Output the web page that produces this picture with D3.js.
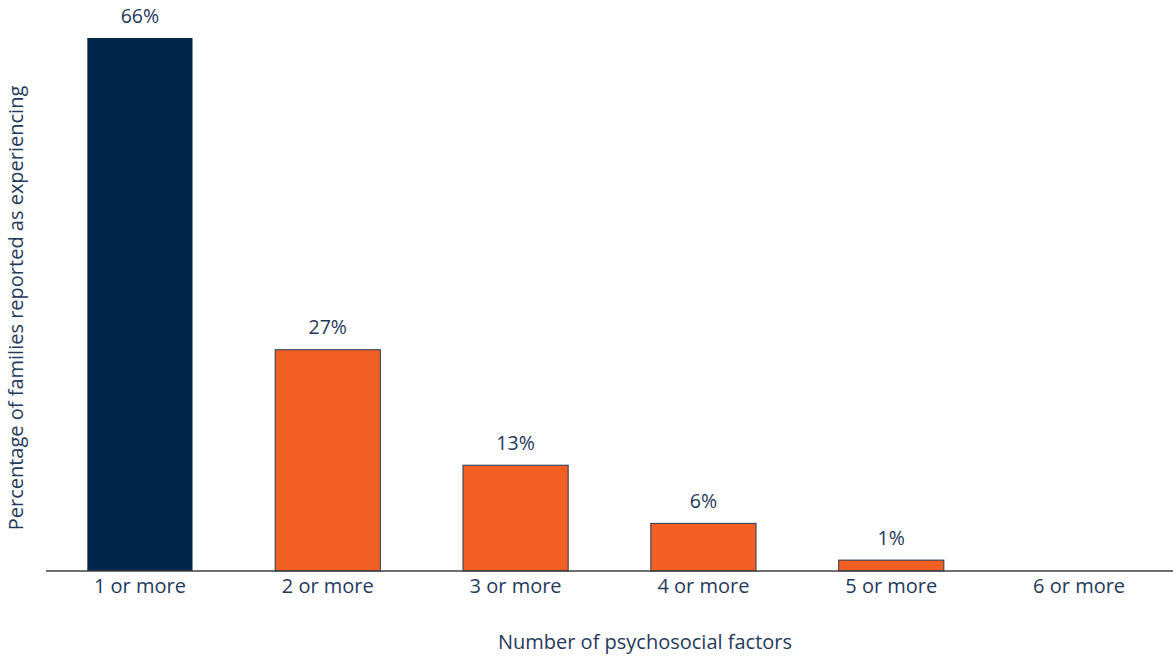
<!DOCTYPE html>
<html>
<head>
<meta charset="utf-8">
<script src="https://cdn.jsdelivr.net/npm/d3@7"></script>
<style>
  html, body { margin: 0; padding: 0; background: #fff; }
  text { font-family: 'Open Sans', 'Noto Sans', sans-serif; fill: #1f3a5c; }
</style>
</head>
<body>
<svg id="chart" width="1173" height="656"></svg>
<script>
const categories = ['1 or more', '2 or more', '3 or more', '4 or more', '5 or more', '6 or more'];
const values = [66, 27.4, 13.1, 5.9, 1.35, 0];
const labels = ['66%', '27%', '13%', '6%', '1%', ''];

const W = 1173, H = 656;
const svg = d3.select('#chart');

// ── Scales ───────────────────────────────────────────
const x = d3.scaleBand()
  .domain(categories)
  .range([46, 1173])
  .paddingInner(0.44)
  .paddingOuter(0.22);

const y = d3.scaleLinear()
  .domain([0, 66])
  .range([571, 38]);

const data = categories.map((c, i) => ({ cat: c, v: values[i], label: labels[i] }));

// ── Bars ─────────────────────────────────────────────
svg.append('g')
  .selectAll('rect')
  .data(data)
  .join('rect')
  .attr('x', d => x(d.cat))
  .attr('y', d => y(d.v))
  .attr('width', x.bandwidth())
  .attr('height', d => y(0) - y(d.v))
  .attr('fill', (d, i) => i === 0 ? '#00264b' : '#f15f22')
  .attr('stroke', (d, i) => i === 0 ? 'none' : '#243a5a')
  .attr('stroke-width', 1);

// value labels
svg.append('g')
  .selectAll('text')
  .data(data)
  .join('text')
  .attr('x', d => x(d.cat) + x.bandwidth() / 2)
  .attr('y', d => y(d.v) - 23)
  .attr('text-anchor', 'middle')
  .attr('dominant-baseline', 'central')
  .attr('font-size', 19.5)
  .text(d => d.label);

// ── X axis ───────────────────────────────────────────
const xAxis = svg.append('g')
  .attr('transform', `translate(0,${y(0)})`)
  .call(d3.axisBottom(x).tickSize(0).tickPadding(8));
xAxis.select('.domain').attr('stroke', '#404040').attr('stroke-width', 1.3).attr('d', 'M46,0H1173');
xAxis.selectAll('.tick text')
  .attr('font-size', 20)
  .attr('font-family', "'Open Sans', 'Noto Sans', sans-serif")
  .attr('fill', '#1f3a5c');

// axis titles
svg.append('text')
  .attr('x', 645)
  .attr('y', 641)
  .attr('text-anchor', 'middle')
  .attr('dominant-baseline', 'central')
  .attr('font-size', 20)
  .text('Number of psychosocial factors');

svg.append('text')
  .attr('transform', 'translate(15,308) rotate(-90)')
  .attr('text-anchor', 'middle')
  .attr('dominant-baseline', 'central')
  .attr('font-size', 20)
  .text('Percentage of families reported as experiencing');
</script>
</body>
</html>
